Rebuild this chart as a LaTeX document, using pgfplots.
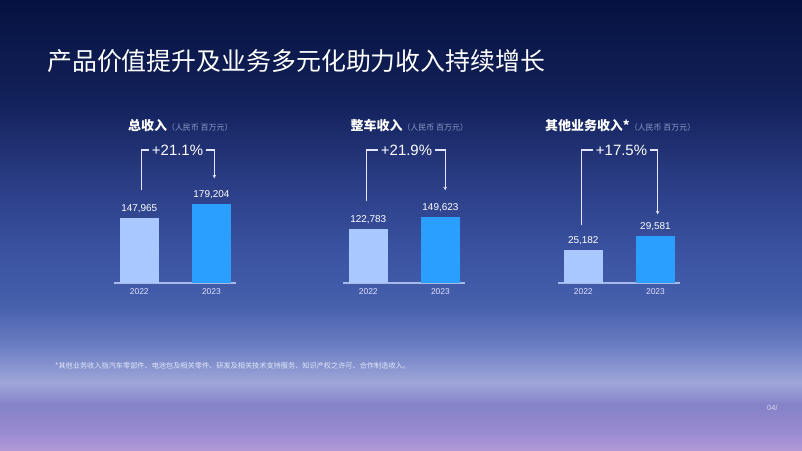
\documentclass[border=0pt]{standalone}
\usepackage{pgfplots}
\pgfplotsset{compat=1.18}
\usepackage{fontspec}
\setmainfont{Liberation Sans}
\newfontfamily\cjk{Noto Sans CJK SC}
\usetikzlibrary{arrows.meta}

% slide background, bottom to top
\definecolor{bg0}{HTML}{B29AD8}
\definecolor{bg1}{HTML}{9C8CD0}
\definecolor{bg2}{HTML}{8482C8}
\definecolor{bg3}{HTML}{A0A6D8}
\definecolor{bg4}{HTML}{8E9AD2}
\definecolor{bg5}{HTML}{6A7CC2}
\definecolor{bg6}{HTML}{4660AC}
\definecolor{bg7}{HTML}{3A52A0}
\definecolor{bg8}{HTML}{2A3C84}
\definecolor{bg9}{HTML}{12215A}
\definecolor{bg10}{HTML}{061240}
\pgfdeclareverticalshading{slidebg}{100bp}{
  color(0bp)=(bg0); color(25bp)=(bg0); color(26.8bp)=(bg1); color(30.1bp)=(bg2);
  color(32.6bp)=(bg3); color(33.8bp)=(bg4); color(36.8bp)=(bg5); color(41.2bp)=(bg6);
  color(47.3bp)=(bg7); color(55bp)=(bg8); color(63.9bp)=(bg9); color(75bp)=(bg10);
  color(100bp)=(bg10)}

\definecolor{c22}{HTML}{A8C8FF}
\definecolor{c23}{HTML}{2A9FFF}
\definecolor{baseln}{HTML}{A8B8E8}
\definecolor{subc}{HTML}{8C9CC8}
\definecolor{notec}{HTML}{E0E6F8}

\pgfplotsset{
  rev/.style={
    scale only axis, width=122bp, height=160bp, anchor=south west,
    xmin=-0.35, xmax=1.34,
    axis x line*=bottom, axis y line=none,
    x axis line style={-, draw=baseln, line width=1.8bp},
    xtick={0,1}, xticklabels={2022,2023},
    major tick length=0pt, ytick=\empty,
    xticklabel style={font=\fontsize{8.5}{10}\selectfont, text=white!88!blue,
      inner sep=0pt, anchor=north, yshift=-5.5bp},
    /pgf/number format/.cd, fixed, precision=0, 1000 sep={,}, assume math mode=true
  },
  barbase/.style={ybar, bar width=39bp, bar shift=0pt, draw=none,
    nodes near coords,
    nodes near coords style={font=\fontsize{10}{12}\selectfont, text=white,
      anchor=south, inner sep=0pt, yshift=5bp}},
  b22/.style={barbase, fill=c22},
  b23/.style={barbase, fill=c23},
}
\tikzset{
  brk/.style={draw=white!90!blue, line width=1.1bp},
  tip/.style={-{Stealth[length=3.5bp,width=3.5bp]}},
  pct/.style={font=\fontsize{15}{18}\selectfont, text=white, inner xsep=2.5bp, inner ysep=0pt},
}

\begin{document}
\begin{tikzpicture}
\shade[shading=slidebg] (0,0) rectangle (802bp,451bp);

\node[anchor=west, text=white, inner sep=0pt] at (47bp,390bp)
  {\fontsize{25}{29}\selectfont\cjk 产品价值提升及业务多元化助力收入持续增长};

% chart titles
\node[anchor=west, text=white, inner sep=0pt] at (128bp,325.5bp)
  {{\fontsize{13}{15}\selectfont\cjk\bfseries 总收入}{\fontsize{8}{9}\selectfont\cjk\color{subc}（人民币 百万元）}};
\node[anchor=west, text=white, inner sep=0pt] at (350.5bp,325.5bp)
  {{\fontsize{13}{15}\selectfont\cjk\bfseries 整车收入}{\fontsize{8}{9}\selectfont\cjk\color{subc}（人民币 百万元）}};
\node[anchor=west, text=white, inner sep=0pt] at (545bp,325.5bp)
  {{\fontsize{13}{15}\selectfont\cjk\bfseries 其他业务收入*}{\fontsize{8}{9}\selectfont\cjk\color{subc}（人民币 百万元）}};

% total revenue
\begin{axis}[rev, at={(114bp,168bp)}, ymin=0, ymax=364320]
\addplot[b22] coordinates {(0,147965)};
\addplot[b23] coordinates {(1,179204)};
\node[pct] (t1) at (axis cs:0.53,302840) {+21.1\%};
\draw[brk] ([yshift=27.7bp]axis cs:0.03,147965) |- (t1.west);
\draw[brk,tip] (t1.east) -| ([yshift=26bp]axis cs:1.04,179204);
\end{axis}

% vehicle revenue
\begin{axis}[rev, at={(343bp,168bp)}, ymin=0, ymax=364320]
\addplot[b22] coordinates {(0,122783)};
\addplot[b23] coordinates {(1,149623)};
\node[pct] (t2) at (axis cs:0.53,302840) {+21.9\%};
\draw[brk] ([yshift=28.3bp]axis cs:-0.03,122783) |- (t2.west);
\draw[brk,tip] (t2.east) -| ([yshift=27bp]axis cs:1.065,149623);
\end{axis}

% other revenue
\begin{axis}[rev, at={(558bp,168bp)}, ymin=14200, ymax=66968]
\addplot[b22] coordinates {(0,25182)};
\addplot[b23] coordinates {(1,29581)};
\node[pct] (t3) at (axis cs:0.53,58063) {+17.5\%};
\draw[brk] ([yshift=24.3bp]axis cs:-0.03,25182) |- (t3.west);
\draw[brk,tip] (t3.east) -| ([yshift=22bp]axis cs:1.03,29581);
\end{axis}

\node[anchor=west, text=notec, inner sep=0pt] at (55bp,85bp)
  {\fontsize{7.2}{8}\selectfont\cjk *其他业务收入指汽车零部件、电池包及相关零件、研发及相关技术支持服务、知识产权之许可、合作制造收入。};
\node[anchor=west, text=white!70!bg2, inner sep=0pt] at (767bp,43bp)
  {\fontsize{7.5}{8}\selectfont 04/};
\end{tikzpicture}
\end{document}
